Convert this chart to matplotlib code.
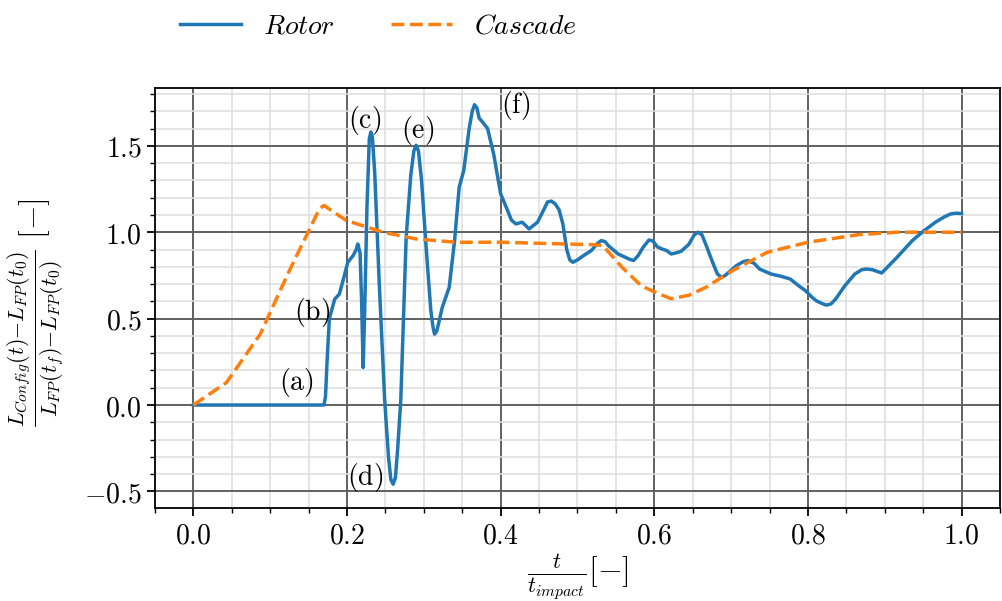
import numpy as np
import matplotlib
matplotlib.use('Agg')
import matplotlib.pyplot as plt
from matplotlib.ticker import MultipleLocator, FuncFormatter

plt.rcParams['mathtext.fontset'] = 'cm'
plt.rcParams['font.size'] = 20

# normalised time / lift
t_rotor = [0.0, 0.10, 0.170, 0.172, 0.174, 0.177, 0.184, 0.190, 0.196, 0.201, 0.208, 0.212, 0.214, 0.217,
           0.219, 0.221, 0.223, 0.226, 0.229, 0.231, 0.233, 0.236, 0.242, 0.249, 0.254, 0.257, 0.260,
           0.263, 0.266, 0.270, 0.277, 0.283, 0.287, 0.290, 0.293, 0.297, 0.303, 0.309, 0.312, 0.314,
           0.317, 0.324, 0.333, 0.340, 0.346, 0.352, 0.359, 0.363, 0.366, 0.369, 0.372, 0.376, 0.383,
           0.391, 0.400, 0.409, 0.414, 0.420, 0.428, 0.437, 0.448, 0.455, 0.461, 0.466, 0.471, 0.476,
           0.481, 0.486, 0.490, 0.494, 0.500, 0.508, 0.518, 0.526, 0.531, 0.536, 0.540, 0.553, 0.567,
           0.573, 0.579, 0.585, 0.593, 0.598, 0.604, 0.610, 0.616, 0.622, 0.628, 0.635, 0.645, 0.652,
           0.657, 0.662, 0.667, 0.675, 0.682, 0.687, 0.692, 0.707, 0.716, 0.722, 0.730, 0.737, 0.752,
           0.765, 0.777, 0.788, 0.797, 0.805, 0.811, 0.818, 0.824, 0.830, 0.836, 0.848, 0.861, 0.870,
           0.876, 0.884, 0.896, 0.916, 0.936, 0.950, 0.966, 0.978, 0.986, 0.993, 1.0]
lift_rotor = [0.0, 0.0, 0.0, 0.05, 0.25, 0.50, 0.613, 0.642, 0.74, 0.826, 0.865, 0.90, 0.932, 0.88,
              0.60, 0.217, 0.55, 1.15, 1.54, 1.58, 1.55, 1.35, 0.70, 0.03, -0.30, -0.43, -0.458,
              -0.42, -0.25, 0.03, 0.971, 1.33, 1.47, 1.503, 1.47, 1.30, 0.913, 0.55, 0.45, 0.41,
              0.43, 0.565, 0.681, 0.95, 1.261, 1.358, 1.60, 1.70, 1.738, 1.72, 1.66, 1.64, 1.60,
              1.45, 1.222, 1.126, 1.07, 1.048, 1.058, 1.019, 1.058, 1.12, 1.175, 1.18, 1.164, 1.13,
              1.048, 0.90, 0.84, 0.826, 0.840, 0.865, 0.894, 0.935, 0.952, 0.945, 0.923, 0.874, 0.845,
              0.836, 0.865, 0.910, 0.955, 0.950, 0.915, 0.903, 0.894, 0.874, 0.880, 0.890, 0.930, 0.985,
              1.0, 0.985, 0.93, 0.836, 0.760, 0.739, 0.749, 0.807, 0.830, 0.836, 0.820, 0.787, 0.758,
              0.745, 0.729, 0.690, 0.661, 0.625, 0.603, 0.588, 0.578, 0.585, 0.613, 0.690, 0.758, 0.783,
              0.787, 0.783, 0.764, 0.855, 0.952, 1.005, 1.058, 1.090, 1.106, 1.110, 1.108]

t_cascade = [0.0, 0.043, 0.087, 0.125, 0.164, 0.170, 0.199, 0.247, 0.290, 0.342, 0.400, 0.484,
             0.520, 0.533, 0.558, 0.583, 0.605, 0.622, 0.645, 0.667, 0.702, 0.747, 0.800, 0.866,
             0.916, 1.0]
lift_cascade = [0.0, 0.13, 0.41, 0.778, 1.135, 1.155, 1.068, 1.0, 0.961, 0.942, 0.942, 0.932,
                0.928, 0.923, 0.797, 0.690, 0.645, 0.615, 0.635, 0.681, 0.778, 0.884, 0.942, 0.986,
                1.0, 1.0]

labels = ['(a)', '(b)', '(c)', '(d)', '(e)', '(f)']
label_x = [0.134, 0.154, 0.223, 0.224, 0.292, 0.42]
label_y = [0.13, 0.536, 1.648, -0.419, 1.59, 1.735]

fig = plt.figure(figsize=(10.03, 6.01), dpi=100)
ax = fig.add_axes([0.1545, 0.1547, 0.8425, 0.699])

ax.plot(t_rotor, lift_rotor, color='#1f77b4', lw=2.5, label='$Rotor$', zorder=3)
ax.plot(t_cascade, lift_cascade, color='#ff7f0e', lw=2.5, ls='--', label='$Cascade$', zorder=3)

for lab, x, y in zip(labels, label_x, label_y):
    ax.text(x, y, r'$\mathrm{' + lab + '}$', ha='center', va='center', fontsize=20)

ax.set_xlim(-0.05, 1.05)
ax.set_ylim(-0.596, 1.835)
ax.xaxis.set_major_locator(MultipleLocator(0.2))
ax.xaxis.set_minor_locator(MultipleLocator(0.05))
ax.yaxis.set_major_locator(MultipleLocator(0.5))
ax.yaxis.set_minor_locator(MultipleLocator(0.1))
fmt = FuncFormatter(lambda v, p: '$%.1f$' % v)
ax.xaxis.set_major_formatter(fmt)
ax.yaxis.set_major_formatter(fmt)

ax.grid(which='major', color='#606060', lw=1.4, zorder=1)
ax.grid(which='minor', color='#dedede', lw=1.1, zorder=0)
ax.set_axisbelow(True)
ax.tick_params(which='major', direction='out', length=6, width=1.3, labelsize=20)
ax.tick_params(which='minor', direction='out', length=3.5, width=1.0)
for s in ax.spines.values():
    s.set_linewidth(1.3)

ax.set_xlabel(r'$\frac{t}{t_{impact}}[-]$', fontsize=23, labelpad=2)
ax.set_ylabel(r'$\frac{L_{Config}(t){-}L_{FP}(t_0)}{L_{FP}(t_f){-}L_{FP}(t_0)}\ [-]$', fontsize=22.5)
ax.yaxis.set_label_coords(-0.104, 0.465)

fig.legend(loc='center left', bbox_to_anchor=(0.1795, 0.957), ncol=2, frameon=False,
           borderaxespad=0, borderpad=0, fontsize=20, handlelength=2.2)

fig.savefig('out.png', dpi=100)
